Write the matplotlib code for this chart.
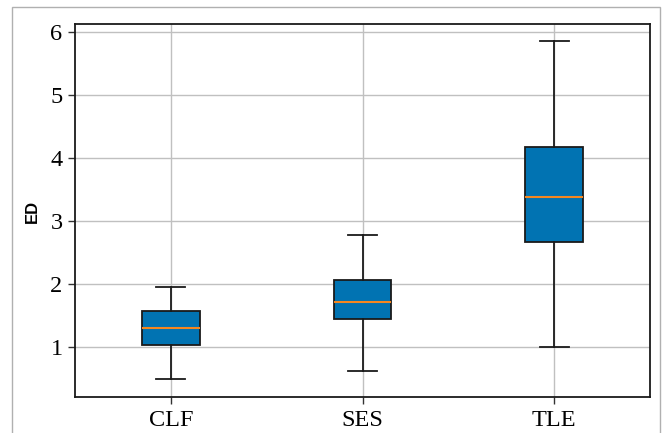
import matplotlib
matplotlib.use("Agg")
import matplotlib.pyplot as plt
from matplotlib.patches import Rectangle

categories = ["CLF", "SES", "TLE"]
whislo = [0.49, 0.62, 1.01]
q1 = [1.04, 1.45, 2.67]
med = [1.30, 1.72, 3.39]
q3 = [1.57, 2.06, 4.18]
whishi = [1.96, 2.78, 5.85]

stats = [dict(label=c, whislo=a, q1=b, med=m, q3=d, whishi=e, fliers=[])
         for c, a, b, m, d, e in zip(categories, whislo, q1, med, q3, whishi)]

fig = plt.figure(figsize=(6.64, 4.33), dpi=100)
ax = fig.add_axes([0.113, 0.083, 0.866, 0.862])
ax.set_axisbelow(True)
ax.grid(True, color="#c0c0c0", linewidth=1.0)

bp = ax.bxp(stats, positions=[1, 2, 3], widths=0.3, patch_artist=True,
            showfliers=False,
            boxprops=dict(facecolor="#0173b2", edgecolor="#1a1a1a", linewidth=1.3),
            medianprops=dict(color="#f5871f", linewidth=1.5),
            whiskerprops=dict(color="#1a1a1a", linewidth=1.3),
            capprops=dict(color="#1a1a1a", linewidth=1.3))

ax.set_xlim(0.5, 3.5)
ax.set_ylim(0.21, 6.13)
ax.set_yticks([1, 2, 3, 4, 5, 6])
ax.set_xticks([1, 2, 3])
ax.set_xticklabels(categories)
for lab in ax.get_xticklabels() + ax.get_yticklabels():
    lab.set_fontfamily("Liberation Serif")
    lab.set_fontsize(17.5)
ax.tick_params(axis="both", direction="out", length=5, width=1.0, color="#333333", pad=4)
ax.set_ylabel("ED", fontsize=12, fontweight="bold", fontfamily="Liberation Sans")
ax.yaxis.set_label_coords(-0.061, 0.496)
for s in ax.spines.values():
    s.set_linewidth(1.3)
    s.set_color("#1a1a1a")

fig.patches.append(Rectangle((12/664, -0.1), (660-12)/664, 1.1 - 7/433,
                             transform=fig.transFigure, fill=False,
                             edgecolor="#b0b0b0", linewidth=1.0))
fig.savefig("out.png", dpi=100)
